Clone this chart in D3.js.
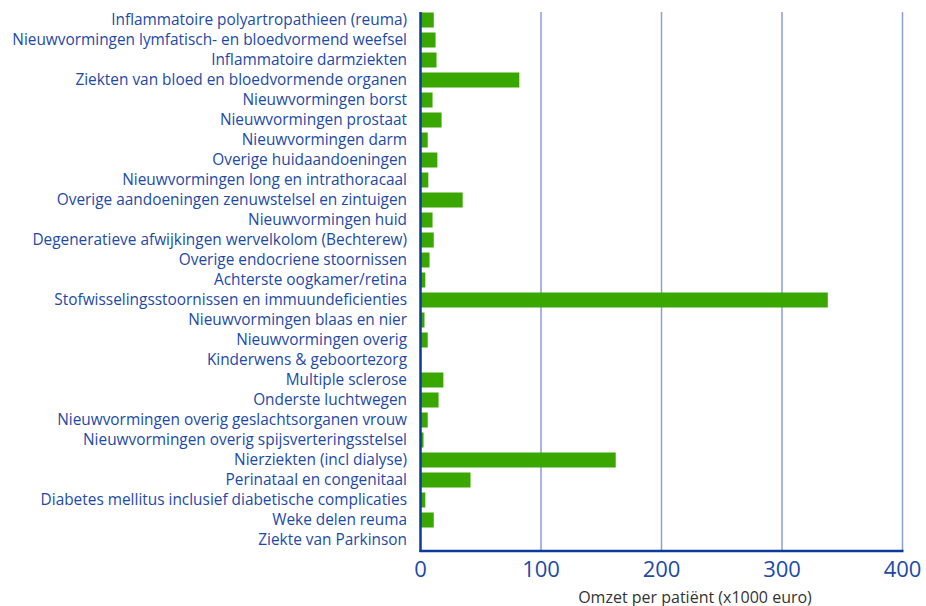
<!DOCTYPE html>
<html>
<head>
<meta charset="utf-8">
<script src="https://cdn.jsdelivr.net/npm/d3@7"></script>
<style>
  body { margin: 0; background: #fff; }
  svg { display: block; font-family: "Open Sans", sans-serif; }
</style>
</head>
<body>
<div class="container"></div>
<script>
const categories = [
  'Inflammatoire polyartropathieen (reuma)',
  'Nieuwvormingen lymfatisch- en bloedvormend weefsel',
  'Inflammatoire darmziekten',
  'Ziekten van bloed en bloedvormende organen',
  'Nieuwvormingen borst',
  'Nieuwvormingen prostaat',
  'Nieuwvormingen darm',
  'Overige huidaandoeningen',
  'Nieuwvormingen long en intrathoracaal',
  'Overige aandoeningen zenuwstelsel en zintuigen',
  'Nieuwvormingen huid',
  'Degeneratieve afwijkingen wervelkolom (Bechterew)',
  'Overige endocriene stoornissen',
  'Achterste oogkamer/retina',
  'Stofwisselingsstoornissen en immuundeficienties',
  'Nieuwvormingen blaas en nier',
  'Nieuwvormingen overig',
  'Kinderwens & geboortezorg',
  'Multiple sclerose',
  'Onderste luchtwegen',
  'Nieuwvormingen overig geslachtsorganen vrouw',
  'Nieuwvormingen overig spijsverteringsstelsel',
  'Nierziekten (incl dialyse)',
  'Perinataal en congenitaal',
  'Diabetes mellitus inclusief diabetische complicaties',
  'Weke delen reuma',
  'Ziekte van Parkinson'
];
const omzet = [11, 12.5, 13.3, 82, 10, 17.5, 6, 14, 6.5, 35, 10, 11, 7.5, 4,
  338, 3.3, 6, 0.5, 19, 15, 6, 2.5, 162, 41.5, 4, 11, 0];
const xTicks = [0, 100, 200, 300, 400];
const xTitle = 'Omzet per patiënt (x1000 euro)';

var display = function () {
  var svg = d3.select('.container').append('svg')
    .attr('width', 926)
    .attr('height', 606)

  var x = d3.scaleLinear().domain([0, 400]).range([420.5, 902.5]);
  var y = d3.scaleBand().domain(categories).range([10, 550]).paddingInner(0.25).paddingOuter(0.125);

  // gridlines
  svg.selectAll('.grid').data(xTicks.slice(1)).enter().append('line')
    .attr('x1', d => x(d)).attr('x2', d => x(d))
    .attr('y1', 12).attr('y2', 551)
    .attr('stroke', '#8a9fdc')
    .attr('stroke-width', 1.5)

  // bars
  svg.selectAll('.bar').data(omzet).enter().append('rect')
    .attr('x', x(0))
    .attr('y', (d, i) => y(categories[i]))
    .attr('width', d => x(d) - x(0))
    .attr('height', y.bandwidth())
    .attr('fill', '#3aa600')

  // axes lines
  svg.append('line')
    .attr('x1', x(0)).attr('x2', x(0))
    .attr('y1', 12).attr('y2', 552)
    .attr('stroke', '#0a3a9c').attr('stroke-width', 2.5)
  svg.append('line')
    .attr('x1', x(0) - 1).attr('x2', x(400) + 1)
    .attr('y1', 551).attr('y2', 551)
    .attr('stroke', '#0a3a9c').attr('stroke-width', 2.5)

  // category labels
  svg.selectAll('.cat').data(categories).enter().append('text')
    .attr('x', 407)
    .attr('y', d => y(d) + y.bandwidth() / 2)
    .attr('dy', '0.35em')
    .attr('text-anchor', 'end')
    .attr('font-size', '15.4px')
    .attr('fill', '#1d4aa8')
    .text(d => d)

  // tick labels
  svg.selectAll('.tick').data(xTicks).enter().append('text')
    .attr('x', d => x(d))
    .attr('y', 577)
    .attr('text-anchor', 'middle')
    .attr('font-size', '22px')
    .attr('fill', '#1d4aa8')
    .text(d => d)

  svg.append('text')
    .attr('x', 695)
    .attr('y', 602.5)
    .attr('text-anchor', 'middle')
    .attr('font-size', '16px')
    .attr('fill', '#333')
    .text(xTitle)
}

window.onload = display;
</script>
</body>
</html>
